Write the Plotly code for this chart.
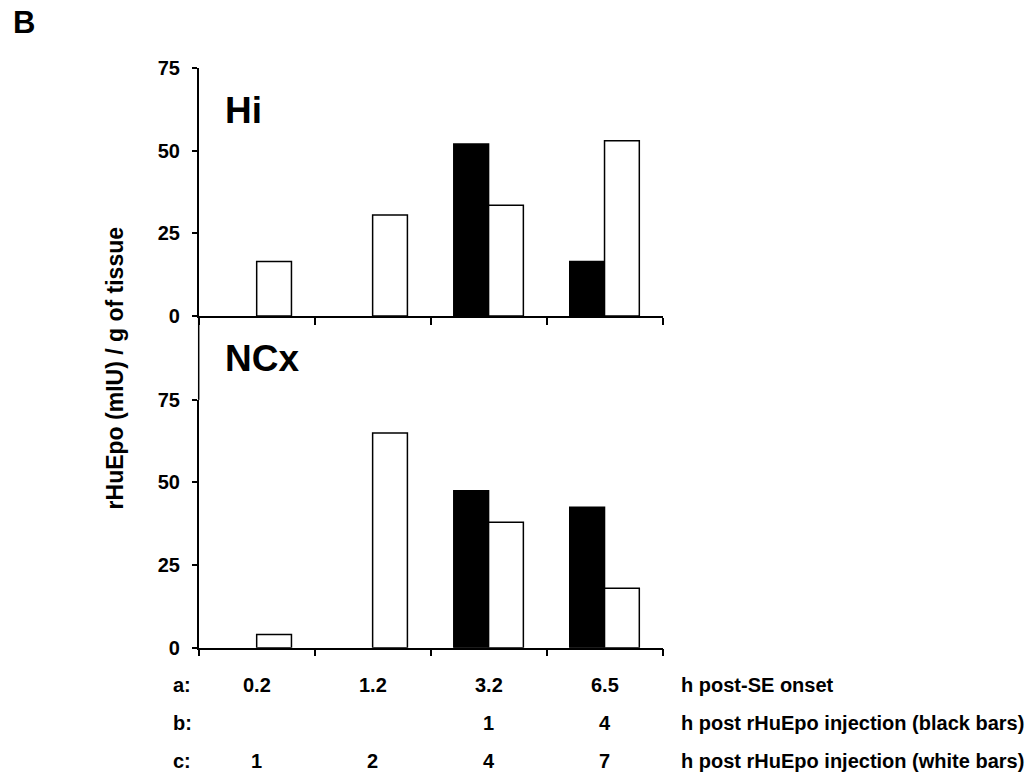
import plotly.graph_objects as go

# time points (h post-SE onset) used as categories
groups = ['0.2', '1.2', '3.2', '6.5']

# rHuEpo (mIU) / g of tissue
hi_black = [None, None, 52, 16.5]
hi_white = [16.5, 30.5, 33.5, 53]
ncx_black = [None, None, 47.5, 42.5]
ncx_white = [4, 65, 38, 18]

row_labels = ['a:', 'b:', 'c:']
row_a = ['0.2', '1.2', '3.2', '6.5']
row_b = ['', '', '1', '4']
row_c = ['1', '2', '4', '7']
row_text = ['h post-SE onset',
            'h post rHuEpo injection (black bars)',
            'h post rHuEpo injection (white bars)']

W, H = 1036, 780
# the photographed page comes back a bit squeezed vertically, so map
# target picture rows back to figure rows
SQ, OFF = 0.9724, 10.9
FONT = 'Arial, Liberation Sans, sans-serif'


def px(x):
    return x / W


def py(y):
    return 1 - ((y - OFF) / SQ) / H


fig = go.Figure()

for vals, xa, ya, fill in [(hi_black, 'x', 'y', 'black'), (hi_white, 'x', 'y', 'white'),
                           (ncx_black, 'x2', 'y2', 'black'), (ncx_white, 'x2', 'y2', 'white')]:
    fig.add_trace(go.Bar(
        x=groups, y=vals, xaxis=xa, yaxis=ya,
        marker=dict(color=fill, line=dict(color='black', width=1.5)),
        showlegend=False, hoverinfo='skip'
    ))

xdom = [px(198.7), px(662.5)]
xax = dict(domain=xdom, type='category', range=[-0.5, 3.5], tickson='boundaries',
           ticks='outside', ticklen=7, tickwidth=1.5, tickcolor='black',
           showline=True, linecolor='black', linewidth=1.5,
           showticklabels=False, showgrid=False, zeroline=False)
yax = dict(range=[0, 75], tickvals=[0, 25, 50, 75], ticks='outside', ticklen=5,
           tickwidth=1.5, tickcolor='black', showline=True, linecolor='black',
           linewidth=1.5, showgrid=False, zeroline=False, ticklabelstandoff=8,
           tickfont=dict(family=FONT, size=20, color='black', weight='bold'))

fig.update_layout(
    width=W, height=H, autosize=False,
    margin=dict(l=0, r=0, t=0, b=0),
    paper_bgcolor='white', plot_bgcolor='white',
    barmode='group', bargap=0.4, bargroupgap=0,
    xaxis=dict(xax, anchor='y'),
    xaxis2=dict(xax, anchor='y2'),
    yaxis=dict(yax, domain=[py(316), py(68)], anchor='x'),
    yaxis2=dict(yax, domain=[py(648), py(400)], anchor='x2'),
)

# continue the y axis line between the two panels
fig.add_shape(type='line', xref='paper', yref='paper',
              x0=xdom[0], x1=xdom[0], y0=py(400), y1=py(316),
              line=dict(color='black', width=1.5))

annots = []
annots.append(dict(text='B', x=px(11), y=py(22), xanchor='left', yanchor='middle',
                   font=dict(size=31)))
annots.append(dict(text='Hi', x=px(223), y=py(110), xanchor='left', yanchor='middle',
                   font=dict(size=37)))
annots.append(dict(text='NCx', x=px(223), y=py(359), xanchor='left', yanchor='middle',
                   font=dict(size=37)))
annots.append(dict(text='rHuEpo (mIU) / g of tissue', x=px(115), y=py(368.5),
                   xanchor='center', yanchor='middle', textangle=-90,
                   font=dict(size=23)))

row_y = [685, 723, 761]
for i, (lab, vals, txt) in enumerate(zip(row_labels, [row_a, row_b, row_c], row_text)):
    annots.append(dict(text=lab, x=px(171), y=py(row_y[i]), xanchor='left',
                       yanchor='middle', font=dict(size=20)))
    for g, v in enumerate(vals):
        if v:
            annots.append(dict(text=v, x=g, xref='x2', y=py(row_y[i]), yref='paper',
                               xanchor='center', yanchor='middle', font=dict(size=20)))
    annots.append(dict(text=txt, x=px(679), y=py(row_y[i]), xanchor='left',
                       yanchor='middle', font=dict(size=20)))

for a in annots:
    a.setdefault('xref', 'paper')
    a.setdefault('yref', 'paper')
    a['showarrow'] = False
    a['font'] = dict(a['font'], family=FONT, color='black', weight='bold')
fig.update_layout(annotations=annots)

page_css = ("document.documentElement.style.margin='0';"
            "document.documentElement.style.overflow='hidden';"
            "document.body.style.margin='0';"
            "document.body.style.overflow='hidden';")
fig.write_html('out.html', config={'displayModeBar': False}, post_script=page_css)
